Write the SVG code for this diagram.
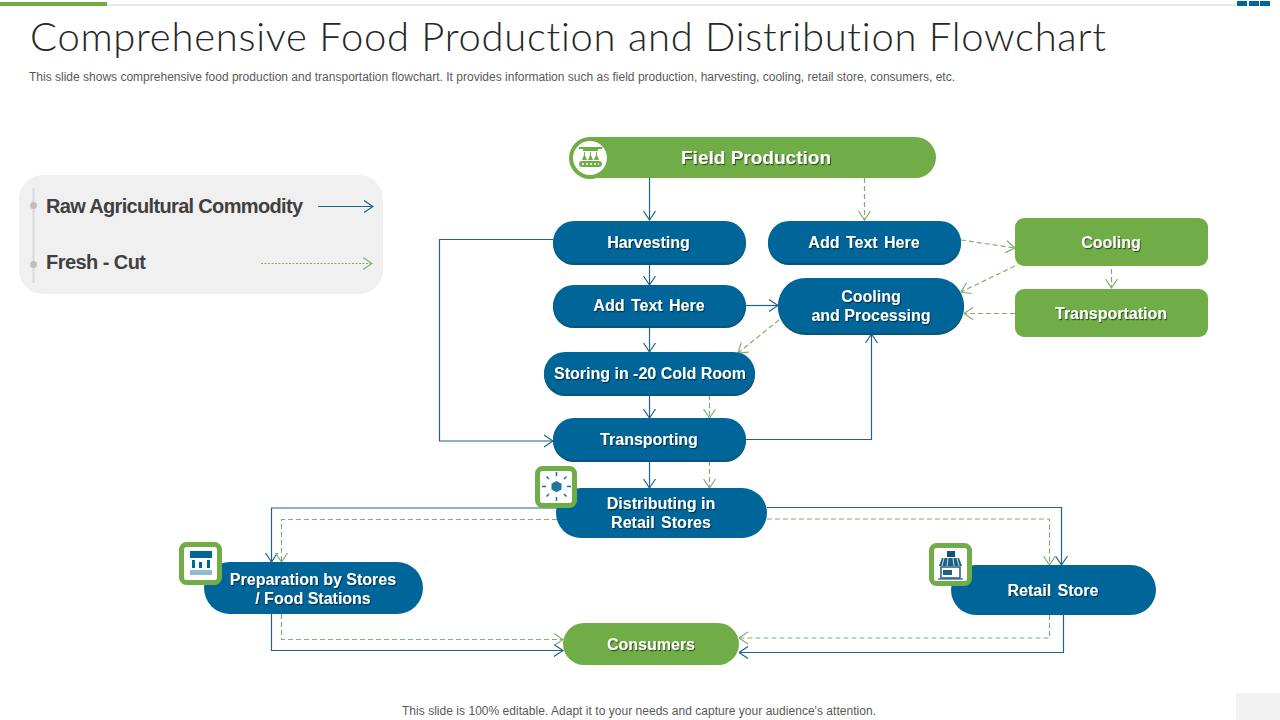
<svg xmlns="http://www.w3.org/2000/svg" width="1280" height="720" viewBox="0 0 1280 720">
<style>
text{font-family:"Liberation Sans",Arial,sans-serif}
.t{font-weight:700;font-size:16px;fill:#fff;text-anchor:middle;filter:url(#sh)}
.w{word-spacing:2px}
.blue{fill:#006699}
.bs{fill:#0b5476}
.green{fill:#70ad47}
.ln{fill:none;stroke:#1f6386;stroke-width:1.2}
.ds{fill:none;stroke:#86ab72;stroke-width:1.2;stroke-dasharray:5 3}
.leg{font-weight:700;font-size:20px;fill:#404040}
.ic{fill:#fff;stroke:#70ad47;stroke-width:5}
.sm{font-size:12px;fill:#595959}
</style>
<defs>
<filter id="sh" x="-10%" y="-20%" width="125%" height="150%"><feDropShadow dx="1" dy="1.2" stdDeviation="0.7" flood-color="#000" flood-opacity="0.55"/></filter>
<marker id="a" viewBox="0 0 10 14" markerWidth="10" markerHeight="14" refX="9.5" refY="7" orient="auto" markerUnits="userSpaceOnUse"><path d="M0.5 1L9.5 7L0.5 13" fill="none" stroke="#1f6386" stroke-width="1.2"/></marker>
<marker id="g" viewBox="0 0 10 14" markerWidth="10" markerHeight="14" refX="9.5" refY="7" orient="auto" markerUnits="userSpaceOnUse"><path d="M0.5 1L9.5 7L0.5 13" fill="none" stroke="#86ab72" stroke-width="1.2"/></marker>
</defs>
<rect width="1280" height="720" fill="#fff"/>
<g id="chrome">
<rect x="0" y="4" width="1236" height="2" fill="#e7e7e7"/>
<rect x="0" y="2" width="107" height="4" fill="#70ad47"/>
<rect x="1237" y="1" width="10" height="5" class="blue"/>
<rect x="1249" y="1" width="10" height="5" class="blue"/>
<rect x="1260" y="1" width="10" height="5" class="blue"/>
<rect x="1236" y="693" width="44" height="27" fill="#f2f2f2"/>
</g>
<text id="title" x="30" y="51" font-size="40" textLength="1076" lengthAdjust="spacing" fill="#262626" style="font-family:Lato,'Liberation Sans',sans-serif;font-weight:300;font-variant-ligatures:none">Comprehensive Food Production and Distribution Flowchart</text>
<text id="subtitle" x="29" y="81" class="sm" textLength="926" lengthAdjust="spacing">This slide shows comprehensive food production and transportation flowchart. It provides information such as field production, harvesting, cooling, retail store, consumers, etc.</text>
<text id="footer" x="402" y="715" class="sm" textLength="474" lengthAdjust="spacing">This slide is 100% editable. Adapt it to your needs and capture your audience's attention.</text>

<g id="legend">
<rect x="19" y="175" width="364" height="119" rx="24" fill="#f0f0f0"/>
<rect x="32.500" y="188" width="2" height="95" fill="#d9d9d9"/>
<circle cx="33.500" cy="205.500" r="3.500" fill="#bfbfbf"/>
<circle cx="33.500" cy="264.500" r="3.500" fill="#bfbfbf"/>
<text x="46" y="213" class="leg" textLength="257" lengthAdjust="spacing">Raw Agricultural Commodity</text>
<text x="46" y="269" class="leg" textLength="100" lengthAdjust="spacing">Fresh - Cut</text>
<path d="M318 206.500H373" class="ln" marker-end="url(#a)"/>
<path d="M261 263.500H372" fill="none" stroke="#86ab72" stroke-width="1" stroke-dasharray="2 1.500" marker-end="url(#g)"/>
</g>

<g id="connectors">
<path d="M649.500 178V220" class="ln" marker-end="url(#a)"/>
<path d="M649.500 264V285" class="ln" marker-end="url(#a)"/>
<path d="M649.500 327V352" class="ln" marker-end="url(#a)"/>
<path d="M649.500 395V418" class="ln" marker-end="url(#a)"/>
<path d="M649.500 461V488" class="ln" marker-end="url(#a)"/>
<path d="M746 305.500H778" class="ln" marker-end="url(#a)"/>
<path d="M553 239.500H439.500V441H553" class="ln" marker-end="url(#a)"/>
<path d="M746 439.500H871.500V334" class="ln" marker-end="url(#a)"/>
<path d="M557 508H271.500V562" class="ln" marker-end="url(#a)"/>
<path d="M767 507.500H1061.500V565" class="ln" marker-end="url(#a)"/>
<path d="M271.500 614V650.500H563" class="ln" marker-end="url(#a)"/>
<path d="M1063.500 615V652.500H739" class="ln" marker-end="url(#a)"/>
<path d="M864.500 178V220" class="ds" marker-end="url(#g)"/>
<path d="M961 240L1015 248" class="ds" marker-end="url(#g)"/>
<path d="M1015 266L961 292" class="ds" marker-end="url(#g)"/>
<path d="M1111.500 269V288" class="ds" marker-end="url(#g)"/>
<path d="M1015 313.500H964" class="ds" marker-end="url(#g)"/>
<path d="M779 320L738 353" class="ds" marker-end="url(#g)"/>
<path d="M709.500 395V418" class="ds" marker-end="url(#g)"/>
<path d="M709.500 461V488" class="ds" marker-end="url(#g)"/>
<path d="M557 519.500H281.500V562" class="ds" marker-end="url(#g)"/>
<path d="M767 519H1049.500V565" class="ds" marker-end="url(#g)"/>
<path d="M281.500 614V639.500H563" class="ds" marker-end="url(#g)"/>
<path d="M1049.500 615V638H739" class="ds" marker-end="url(#g)"/>
</g>

<g id="field-production">
<rect x="572" y="137" width="364" height="41" rx="20.500" class="green"/>
<text x="756" y="164" class="t" style="font-size:19px" textLength="150" lengthAdjust="spacing">Field Production</text>
<circle cx="590" cy="158" r="21" class="green"/>
<circle cx="590" cy="158" r="17" fill="#fff"/>
<rect x="579" y="147" width="23" height="2" fill="#70ad47"/>
<rect x="583" y="149" width="15" height="2" fill="#70ad47"/>
<path d="M584 152v3l-2 5h5l-2-5v-3zM590 152v3l-2 5h5l-2-5v-3zM596 152v3l-2 5h5l-2-5v-3z" fill="#70ad47"/>
<rect x="579" y="161" width="23" height="6" rx="3" fill="#70ad47"/>
<path d="M582 164h17" stroke="#fff" stroke-width="1.500" stroke-dasharray="2 2"/>
</g>
<g id="harvesting"><rect x="553" y="223" width="193" height="42" rx="21" class="bs"/><rect x="553" y="221" width="193" height="42" rx="21" class="blue"/><text x="648.500" y="248" class="t">Harvesting</text></g>
<g id="add-text-1"><rect x="768" y="223" width="193" height="42" rx="21" class="bs"/><rect x="768" y="221" width="193" height="42" rx="21" class="blue"/><text x="864" y="248" class="t w">Add Text Here</text></g>
<g id="add-text-2"><rect x="553" y="287" width="193" height="41" rx="20.500" class="bs"/><rect x="553" y="285" width="193" height="41" rx="20.500" class="blue"/><text x="649" y="311" class="t w">Add Text Here</text></g>
<g id="cooling-processing"><rect x="778" y="280" width="186" height="55" rx="27.500" class="bs"/><rect x="778" y="278" width="186" height="55" rx="27.500" class="blue"/><text x="871" y="302" class="t">Cooling</text><text x="871" y="321" class="t">and Processing</text></g>
<g id="storing"><rect x="544" y="354" width="211" height="42" rx="21" class="bs"/><rect x="544" y="352" width="211" height="42" rx="21" class="blue"/><text x="650" y="379" class="t">Storing in -20 Cold Room</text></g>
<g id="transporting"><rect x="553" y="420" width="193" height="42" rx="21" class="bs"/><rect x="553" y="418" width="193" height="42" rx="21" class="blue"/><text x="649" y="445" class="t">Transporting</text></g>
<g id="cooling"><rect x="1015" y="218" width="193" height="48" rx="9" class="green"/><text x="1111" y="248" class="t">Cooling</text></g>
<g id="transportation"><rect x="1015" y="289" width="193" height="48" rx="9" class="green"/><text x="1111" y="319" class="t">Transportation</text></g>
<g id="distributing">
<rect x="556" y="488" width="211" height="50" rx="25" class="blue"/>
<text x="661" y="509" class="t">Distributing in</text><text x="661" y="528" class="t w">Retail Stores</text>
<rect x="537.500" y="468.500" width="37" height="37" rx="5" class="ic"/>
<path d="M556.500 481l5 2.800v5.600l-5 2.800-5-2.800v-5.600z" fill="#1f74a5"/>
<path d="M556.500 476v-4M556.500 497v4M546 486.500h-4M567 486.500h4M549 479l-2.500-2.500M564 479l2.500-2.500M549 494l-2.500 2.500M564 494l2.500 2.500" stroke="#1f6f9c" stroke-width="1.500" fill="none"/>
</g>
<g id="preparation">
<rect x="204" y="562" width="219" height="52" rx="26" class="blue"/>
<text x="313" y="585" class="t">Preparation by Stores</text><text x="313" y="604" class="t">/ Food Stations</text>
<rect x="181.500" y="544.500" width="38" height="38" rx="5" class="ic"/>
<rect x="190" y="551" width="22" height="7" class="blue"/>
<path d="M192 560h3v8h-3zM199 562h3v6h-3zM207 560h3v8h-3z" class="blue"/>
<path d="M191 570v5M193 570v5M195 570v5M197 570v5M199 570v5M201 570v5M203 570v5M205 570v5M207 570v5M209 570v5M211 570v5" stroke="#1f74a5" stroke-width="1"/>
</g>
<g id="retail-store">
<rect x="951" y="565" width="205" height="50" rx="25" class="blue"/>
<text x="1053" y="596" class="t w">Retail Store</text>
<rect x="931.500" y="545.500" width="38" height="38" rx="5" class="ic"/>
<rect x="947" y="551" width="8" height="6" class="bs"/>
<path d="M942 558h17l3 8h-23z" fill="#1d5f86"/>
<path d="M944 558l-2 8M948 558l-1 8M953 558l1 8M957 558l2 8" stroke="#fff" stroke-width="0.800"/>
<path d="M941 567h19v11h-19z" fill="none" stroke="#1d5f86" stroke-width="1.500"/>
<rect x="943" y="570" width="9" height="5" fill="#1d5f86"/>
<path d="M938 579h25" stroke="#1d5f86" stroke-width="1.200"/>
</g>
<g id="consumers"><rect x="563" y="623" width="176" height="42" rx="21" class="green"/><text x="651" y="650" class="t">Consumers</text></g>
</svg>
